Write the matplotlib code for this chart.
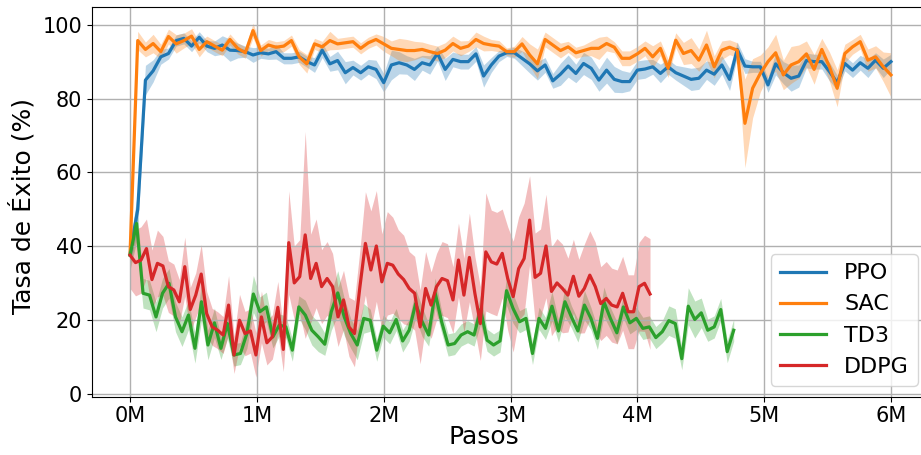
import numpy as np
from matplotlib import pyplot as plt
from matplotlib.ticker import FuncFormatter, MultipleLocator

# Data (success rate %, mean and std per evaluation)
ppo_mean = [
    38.0, 50.0, 85.0, 87.5, 91.3, 92.2, 95.7, 96.3, 94.2, 96.6,
    94.2, 93.6, 94.5, 93.1, 93.0, 92.7, 91.8, 92.4, 92.1, 92.7,
    90.9, 90.9, 91.3, 90.0, 89.1, 93.1, 89.4, 90.3, 87.0, 88.4,
    87.0, 88.6, 87.9, 84.3, 89.1, 89.7, 89.1, 87.9, 89.7, 89.1,
    92.2, 87.9, 90.6, 90.0, 90.0, 92.1, 86.1, 89.1, 91.5, 92.4,
    92.4, 90.9, 89.4, 87.5, 89.1, 84.8, 86.6, 88.8, 86.8, 89.5,
    88.2, 85.0, 87.7, 85.2, 84.6, 84.6, 87.7, 88.0, 88.6, 86.8,
    88.6, 87.0, 86.1, 85.2, 85.5, 87.7, 86.6, 89.1, 85.2, 93.3,
    88.8, 88.6, 88.6, 83.7, 89.4, 87.0, 85.5, 86.1, 90.3, 90.0,
    90.0, 87.3, 84.3, 89.5, 87.7, 89.7, 88.2, 90.4, 88.2, 90.0
]
ppo_std = [
    3, 5, 4, 3, 2, 1.5, 1.5, 1.5, 1.5, 1.5,
    1.5, 2, 2.5, 3, 2, 1.5, 2, 1.5, 1.5, 2,
    1.5, 1.5, 1.5, 1.5, 2, 2, 2, 2.5, 3, 2,
    2, 2, 2.5, 2.5, 4, 3, 2.5, 3, 2, 2.5,
    2, 3, 2, 2, 2, 2, 3, 2, 1.5, 1,
    1.5, 2, 2.5, 2.5, 2, 2, 3, 3, 2.5, 3,
    3, 3, 3.5, 3.5, 3, 2.5, 2.5, 2.5, 2, 2.5,
    2, 2, 2.5, 3, 3, 2.5, 3, 2.5, 3, 2,
    2, 1.5, 1.5, 2, 3, 3, 3.5, 3, 2, 2,
    2, 2.5, 2, 2, 2, 2, 2.5, 2, 2.5, 2
]

sac_mean = [
    38.0, 95.7, 93.3, 94.9, 92.7, 96.8, 94.8, 95.7, 96.9, 93.3,
    95.4, 94.2, 93.1, 96.0, 93.6, 92.4, 98.4, 93.0, 94.5, 93.9,
    94.2, 95.7, 91.3, 89.4, 94.8, 94.0, 95.7, 94.8, 95.1, 95.4,
    93.6, 95.1, 96.0, 94.8, 93.6, 93.3, 93.0, 93.0, 93.3, 92.7,
    92.2, 93.1, 94.9, 93.6, 94.2, 96.0, 94.9, 94.5, 94.2, 92.7,
    92.7, 94.8, 91.8, 89.4, 96.0, 94.5, 93.0, 94.0, 92.4, 93.0,
    93.6, 93.6, 94.9, 93.9, 90.9, 90.9, 92.1, 93.6, 91.3, 93.6,
    88.2, 95.8, 92.2, 93.0, 90.4, 94.5, 88.6, 93.1, 93.9, 93.1,
    73.3, 82.8, 86.8, 90.0, 92.4, 86.4, 89.1, 90.0, 92.1, 87.9,
    93.3, 88.6, 82.8, 92.2, 94.0, 95.4, 90.4, 91.3, 88.6, 86.4
]
sac_std = [
    3, 2.5, 2, 2.5, 2, 2, 2.5, 2, 2, 2,
    1.5, 1.5, 1.5, 1.5, 1.5, 1.5, 2, 1.5, 1.5, 1.5,
    1.5, 1.5, 2, 2.5, 1.5, 1.5, 2.5, 1.5, 1.5, 1.5,
    1.5, 1.5, 1.5, 2, 2, 3, 3, 2.5, 2, 2,
    2, 2, 2, 2, 1.5, 2, 2, 1.5, 1.5, 1,
    1.5, 2, 3, 4, 2, 2, 2, 1.5, 1.5, 1.5,
    2, 3, 2, 1.5, 2, 2, 2, 2, 3, 2,
    2.5, 2, 3, 3.5, 3, 4, 3, 2.5, 2, 2,
    12, 8, 5, 4, 5, 4, 5, 4.5, 3.5, 4,
    3, 4, 5, 2.5, 2, 2, 3, 3, 4, 6
]

td3_mean = [
    37.6, 46.2, 27.3, 26.8, 20.9, 27.3, 30.0, 20.9, 16.9, 21.4,
    12.4, 25.0, 13.3, 19.3, 12.4, 19.1, 10.6, 11.0, 16.4, 27.1,
    22.3, 23.6, 15.5, 18.7, 18.2, 11.9, 23.6, 21.4, 17.3, 15.5,
    13.5, 22.3, 27.4, 20.9, 16.4, 13.3, 20.5, 20.0, 11.9, 18.4,
    16.6, 20.2, 14.4, 17.3, 24.5, 19.6, 16.0, 27.4, 19.6, 13.3,
    13.7, 16.0, 16.9, 16.0, 22.9, 14.6, 13.3, 14.4, 28.0, 23.2,
    19.6, 20.5, 11.0, 20.5, 17.8, 23.8, 17.1, 25.0, 20.9, 17.1,
    24.1, 20.5, 15.1, 25.0, 20.5, 16.6, 23.6, 19.3, 20.5, 17.8,
    18.2, 15.3, 16.9, 19.9, 19.1, 9.6, 23.8, 20.2, 22.0, 17.3,
    18.2, 22.9, 11.5, 17.3
]
td3_std = [
    4, 5, 4, 4, 4, 4, 4, 4, 4, 4,
    4, 5, 4, 4, 3, 4, 3, 3, 4, 5,
    4, 4, 3, 3, 3, 3, 3, 4, 4, 4,
    3, 5, 6, 5, 4, 4, 4, 3, 3, 3,
    3, 3, 3, 3, 4, 4, 3, 4, 3, 3,
    3, 3, 3, 3, 4, 3, 3, 3, 4, 4,
    3, 3, 3, 3, 3, 4, 3, 4, 3, 3,
    4, 3, 3, 4, 3, 3, 3, 3, 3, 3,
    3, 3, 3, 4, 4, 3, 5, 5, 4, 3,
    3, 3, 3, 3
]

ddpg_mean = [
    37.6, 35.6, 36.3, 39.4, 31.0, 35.4, 34.7, 29.1, 28.2, 25.0,
    34.5, 22.9, 26.8, 32.5, 21.8, 18.2, 17.3, 16.0, 24.1, 10.6,
    20.0, 16.4, 17.1, 10.6, 20.9, 13.9, 15.5, 23.5, 12.1, 41.0,
    30.1, 31.8, 43.1, 31.3, 35.4, 29.1, 31.3, 29.1, 20.9, 25.5,
    18.2, 16.4, 29.1, 40.8, 33.6, 40.1, 30.4, 35.4, 34.9, 32.5,
    31.0, 28.6, 27.3, 18.2, 28.6, 24.1, 29.1, 31.3, 30.7, 25.5,
    36.3, 26.8, 37.0, 27.3, 19.1, 38.5, 35.8, 35.2, 38.1, 31.3,
    26.4, 34.0, 36.7, 47.1, 31.6, 32.7, 40.1, 27.8, 30.1, 28.6,
    26.8, 31.9, 26.5, 28.6, 32.2, 29.1, 24.5, 25.9, 24.1, 23.6,
    27.3, 22.3, 22.3, 29.1, 30.0, 27.1
]
ddpg_std = [
    9, 9, 9, 8, 8, 9, 8, 7, 7, 6,
    8, 6, 6, 8, 6, 5, 5, 5, 8, 5,
    7, 6, 6, 6, 7, 6, 6, 7, 6, 14,
    10, 10, 28, 12, 12, 10, 10, 9, 8, 8,
    8, 9, 10, 14, 16, 15, 13, 14, 13, 12,
    12, 10, 10, 10, 10, 9, 9, 10, 10, 9,
    10, 10, 12, 10, 10, 16, 14, 14, 12, 14,
    15, 14, 15, 12, 12, 12, 14, 12, 12, 12,
    10, 10, 10, 12, 12, 12, 10, 10, 10, 10,
    10, 10, 10, 12, 13, 15
]

# (label, mean, std, last step)
runs = [
    ("PPO", ppo_mean, ppo_std, 6.0e6),
    ("SAC", sac_mean, sac_std, 6.0e6),
    ("TD3", td3_mean, td3_std, 4.76e6),
    ("DDPG", ddpg_mean, ddpg_std, 4.10e6),
]
colors = ["#1f77b4", "#ff7f0e", "#2ca02c", "#d62728"]

fig = plt.figure(figsize=(9.21, 4.55), dpi=100)
ax = fig.add_axes([0.0999, 0.1281, 0.9088, 0.8558])

for (label, mean, std, last), color in zip(runs, colors):
    mean = np.array(mean)
    std = np.array(std)
    steps = np.linspace(0, last, len(mean))
    ax.fill_between(steps, mean - std, mean + std, color=color, alpha=0.3, linewidth=0)
    ax.plot(steps, mean, color=color, linewidth=2.3, label=label)

# Axes
ax.set_xlim(-0.3e6, 6.3e6)
ax.set_ylim(-0.7, 104.7)
ax.xaxis.set_major_locator(MultipleLocator(1e6))
ax.xaxis.set_major_formatter(FuncFormatter(lambda v, p: f"{v / 1e6:.0f}M"))
ax.tick_params(labelsize=15)
ax.grid(True, color="#b0b0b0", linewidth=1.0)

ax.set_xlabel("Pasos", fontsize=18)
ax.set_ylabel("Tasa de Éxito (%)", fontsize=18)
ax.xaxis.set_label_coords(0.468, -0.072)
ax.yaxis.set_label_coords(-0.068, 0.49)

ax.legend(loc="lower right", fontsize=16, handlelength=2.1)

fig.savefig("out.png", dpi=100)
